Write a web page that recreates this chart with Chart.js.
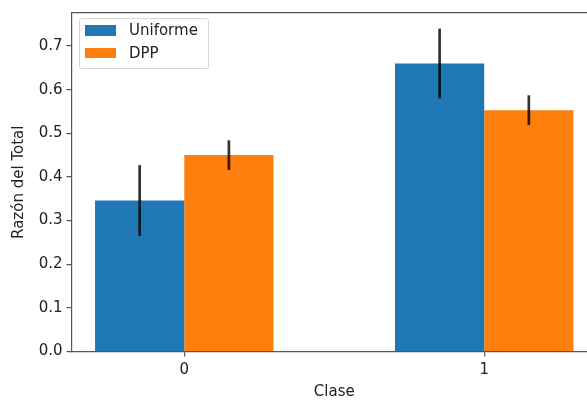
<!DOCTYPE html>
<html>
<head>
<meta charset="utf-8">
<script src="https://cdn.jsdelivr.net/npm/chart.js@4"></script>
<style>
  html, body { margin: 0; padding: 0; background: #fff; overflow: hidden; }
  #wrap { position: relative; width: 587px; height: 400px; overflow: hidden; }
  #c { display: block; }
  #legend {
    position: absolute; left: 79px; top: 18px; width: 130px; height: 51px;
    box-sizing: border-box; border: 1px solid rgba(204,204,204,0.8); border-radius: 3px;
    background: rgba(255,255,255,0.8);
    font: 15px "DejaVu Sans", sans-serif; color: #222;
  }
  #legend .item { display: flex; align-items: center; height: 22.5px; padding-left: 5px; white-space: nowrap; }
  #legend .sw { width: 31px; height: 10.5px; margin-right: 13px; flex: none; }
</style>
</head>
<body>
<div id="wrap">
  <canvas id="c" width="607" height="400"></canvas>
  <div id="legend"></div>
</div>
<script>
// Classes on the x axis and the two sampling strategies
const categories = [0, 1];
const seriesNames = ['Uniforme', 'DPP'];
const seriesColors = ['#1f77b4', '#ff7f0e'];

// Mean ratio per class and the half-length of each error bar
const uniformeValues = [0.346, 0.660];
const uniformeErrors = [0.081, 0.080];
const dppValues = [0.450, 0.553];
const dppErrors = [0.034, 0.034];

// Axis ticks and limits
const xTickValues = [0, 1];
const yTickValues = [0.0, 0.1, 0.2, 0.3, 0.4, 0.5, 0.6, 0.7];
const xLimits = [-0.376, 1.376];
const yLimits = [0, 0.7756];

const seriesValues = [uniformeValues, dppValues];
const seriesErrors = [uniformeErrors, dppErrors];

const FONT = 'DejaVu Sans';
const TEXT = '#222';
const SPINE = '#555';
const SPINE_W = 1.2;

Chart.defaults.font.family = FONT;
Chart.defaults.font.size = 15;
Chart.defaults.color = TEXT;

// Vertical error bars drawn at each bar's centre using the y scale
const errorBars = {
  id: 'errorBars',
  afterDatasetsDraw(chart) {
    const { ctx } = chart;
    const y = chart.scales.y;
    ctx.save();
    ctx.strokeStyle = 'rgba(0,0,0,0.8)';
    ctx.lineWidth = 2.7;
    ctx.lineCap = 'butt';
    chart.data.datasets.forEach((ds, di) => {
      const meta = chart.getDatasetMeta(di);
      meta.data.forEach((bar, i) => {
        const v = seriesValues[di][i];
        const e = seriesErrors[di][i];
        ctx.beginPath();
        ctx.moveTo(bar.x, y.getPixelForValue(v - e));
        ctx.lineTo(bar.x, y.getPixelForValue(v + e));
        ctx.stroke();
      });
    });
    ctx.restore();
  }
};

const datasets = seriesNames.map((name, s) => ({
  label: name,
  data: categories.map((c, i) => ({ x: c, y: seriesValues[s][i] })),
  backgroundColor: seriesColors[s],
  borderWidth: 0,
  categoryPercentage: 0.595,
  barPercentage: 1.0
}));

const frameAxis = (position) => ({
  type: 'linear',
  position,
  min: position === 'top' ? xLimits[0] : yLimits[0],
  max: position === 'top' ? xLimits[1] : yLimits[1],
  ticks: { display: false },
  grid: { display: false, drawTicks: false },
  border: { display: true, color: SPINE, width: SPINE_W },
  afterFit: (s) => { if (position === 'top') s.height = 0; else s.width = 0; }
});

const chart = new Chart(document.getElementById('c'), {
  type: 'bar',
  data: { datasets },
  options: {
    responsive: false,
    devicePixelRatio: 1,
    animation: false,
    layout: { padding: { top: 10, right: 10, bottom: 0, left: 0 } },
    plugins: { legend: { display: false }, tooltip: { enabled: false } },
    scales: {
      x: {
        type: 'linear',
        position: 'bottom',
        min: xLimits[0],
        max: xLimits[1],
        offset: false,
        afterBuildTicks: (s) => { s.ticks = xTickValues.map(v => ({ value: v })); },
        ticks: { callback: (v) => String(v), padding: 5, autoSkip: false, maxRotation: 0, color: TEXT },
        grid: { display: true, offset: false, drawOnChartArea: false, drawTicks: true, tickLength: 5, color: SPINE, lineWidth: SPINE_W },
        border: { display: true, color: SPINE, width: SPINE_W },
        title: { display: true, text: 'Clase', color: TEXT, padding: 0, font: { size: 15, lineHeight: 1 } },
        afterFit: (s) => { s.height = 48.5; }
      },
      y: {
        type: 'linear',
        position: 'left',
        min: yLimits[0],
        max: yLimits[1],
        afterBuildTicks: (s) => { s.ticks = yTickValues.map(v => ({ value: v })); },
        ticks: { callback: (v) => Number(v).toFixed(1), padding: 4, color: TEXT },
        grid: { display: true, drawOnChartArea: false, drawTicks: true, tickLength: 5, color: SPINE, lineWidth: SPINE_W },
        border: { display: true, color: SPINE, width: SPINE_W },
        title: { display: true, text: 'Razón del Total', color: TEXT, padding: { top: 11.5, bottom: 0 }, font: { size: 15, lineHeight: 1 } },
        afterFit: (s) => { s.width = 71.5; }
      },
      xTop: frameAxis('top'),
      yRight: frameAxis('right')
    }
  },
  plugins: [errorBars]
});

// Legend box in the upper-left corner of the plot, built from the datasets
const legendEl = document.getElementById('legend');
chart.data.datasets.forEach((ds) => {
  const item = document.createElement('div');
  item.className = 'item';
  const sw = document.createElement('span');
  sw.className = 'sw';
  sw.style.background = ds.backgroundColor;
  const txt = document.createElement('span');
  txt.textContent = ds.label;
  item.appendChild(sw);
  item.appendChild(txt);
  legendEl.appendChild(item);
});
</script>
</body>
</html>
